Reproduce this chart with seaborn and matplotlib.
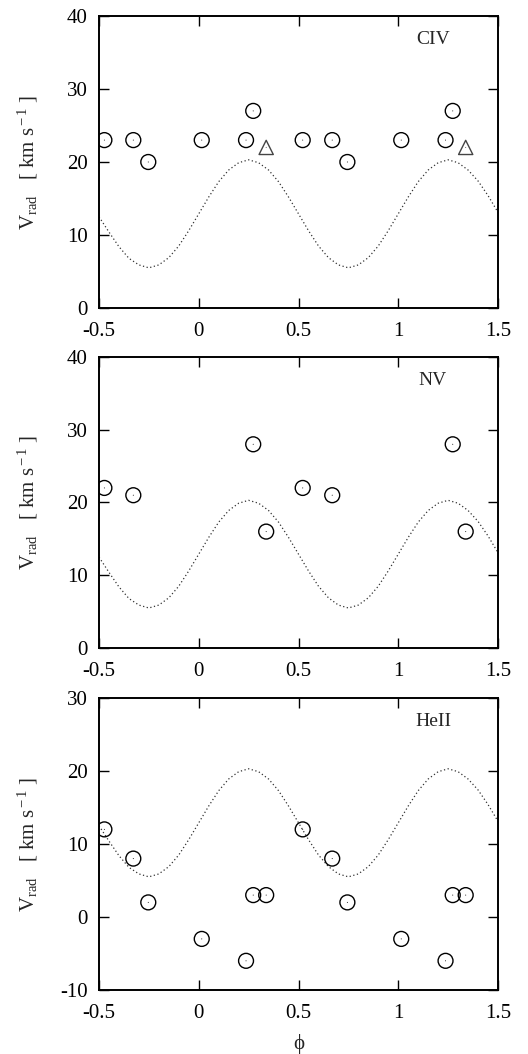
import matplotlib
matplotlib.use("Agg")
import matplotlib.pyplot as plt
import seaborn as sns
import pandas as pd

# model curve, every 0.05 in phase
curve_phase = [-0.5, -0.45, -0.4, -0.35, -0.3, -0.25, -0.2, -0.15, -0.1, -0.05,
               0.0, 0.05, 0.1, 0.15, 0.2, 0.25, 0.3, 0.35, 0.4, 0.45,
               0.5, 0.55, 0.6, 0.65, 0.7, 0.75, 0.8, 0.85, 0.9, 0.95,
               1.0, 1.05, 1.1, 1.15, 1.2, 1.25, 1.3, 1.35, 1.4, 1.45, 1.5]
curve_vrad = [12.5, 10.4, 8.4, 6.8, 5.9, 5.5, 5.9, 6.9, 8.5, 10.6,
              12.9, 15.2, 17.3, 18.9, 19.9, 20.3, 19.9, 18.9, 17.3, 15.2,
              12.9, 10.6, 8.5, 6.9, 5.9, 5.5, 5.9, 6.9, 8.5, 10.6,
              12.9, 15.2, 17.3, 18.9, 19.9, 20.3, 19.9, 18.9, 17.4, 15.4, 13.1]

civ_phase = [-0.473, -0.328, -0.253, 0.015, 0.237, 0.273, 0.521, 0.669, 0.745, 1.015, 1.237, 1.273]
civ_vrad = [23, 23, 20, 23, 23, 27, 23, 23, 20, 23, 23, 27]
civ_tri_phase = [0.338, 1.338]
civ_tri_vrad = [22, 22]

nv_phase = [-0.473, -0.328, 0.273, 0.338, 0.521, 0.669, 1.273, 1.338]
nv_vrad = [22, 21, 28, 16, 22, 21, 28, 16]

heii_phase = [-0.473, -0.328, -0.253, 0.015, 0.237, 0.273, 0.338,
              0.521, 0.669, 0.745, 1.015, 1.237, 1.273, 1.338]
heii_vrad = [12, 8, 2, -3, -6, 3, 3, 12, 8, 2, -3, -6, 3, 3]

sns.set_style("ticks")
plt.rcParams["font.family"] = ["Liberation Serif", "DejaVu Serif"]
plt.rcParams["mathtext.fontset"] = "custom"
plt.rcParams["mathtext.rm"] = "Liberation Serif"
plt.rcParams["mathtext.it"] = "Liberation Serif:italic"

curve = pd.DataFrame({"phase": curve_phase, "vrad": curve_vrad})

fig = plt.figure(figsize=(5.28, 10.54), dpi=100)
boxes = [[0.1875, 0.7078, 0.7557, 0.2770],
         [0.1875, 0.3852, 0.7557, 0.2761],
         [0.1875, 0.0607, 0.7557, 0.2771]]

panels = [
    ("CIV", civ_phase, civ_vrad, (0, 40), [0, 10, 20, 30, 40]),
    ("NV", nv_phase, nv_vrad, (0, 40), [0, 10, 20, 30, 40]),
    ("HeII", heii_phase, heii_vrad, (-10, 30), [-10, 0, 10, 20, 30]),
]


def circles(ax, x, y, marker="o", size=115, color="black"):
    sns.scatterplot(x=x, y=y, ax=ax, marker=marker, s=size, facecolor="none",
                    edgecolor=color, linewidth=1.0, zorder=3)
    sns.scatterplot(x=x, y=y, ax=ax, marker=".", s=2, color=color,
                    edgecolor="none", zorder=4)


for box, (name, ph, vr, ylim, yticks) in zip(boxes, panels):
    ax = fig.add_axes(box)
    sns.lineplot(data=curve, x="phase", y="vrad", ax=ax, color="#333333",
                 linewidth=0.9, linestyle=(0, (1, 2)))
    circles(ax, ph, vr)
    if name == "CIV":
        circles(ax, civ_tri_phase, civ_tri_vrad, marker="^", size=105, color="#444444")
    ax.set_xlim(-0.5, 1.5)
    ax.set_ylim(*ylim)
    ax.set_xticks([-0.5, 0, 0.5, 1, 1.5])
    ax.set_xticklabels(["-0.5", "0", "0.5", "1", "1.5"])
    ax.set_yticks(yticks)
    ax.set_yticklabels([str(t) for t in yticks])
    ax.tick_params(direction="in", length=7, width=1.0, top=True, right=True,
                   labelsize=15, pad=8, color="black", labelcolor="black")
    ax.tick_params(axis="x", pad=10)
    for sp in ax.spines.values():
        sp.set_visible(True)
        sp.set_linewidth(1.4)
        sp.set_color("black")
    ax.set_ylabel(r"V$_{\rm rad}$   [ km s$^{\rm -1}$ ]", fontsize=15)
    ax.yaxis.set_label_coords(-0.148, 0.5)
    ax.set_xlabel("")
    ax.text(0.837, 0.92, name, transform=ax.transAxes, fontsize=14,
            ha="center", va="center")
    if name == "HeII":
        ax.set_xlabel("ϕ", fontsize=15, labelpad=8)

fig.savefig("out.png", dpi=100)
